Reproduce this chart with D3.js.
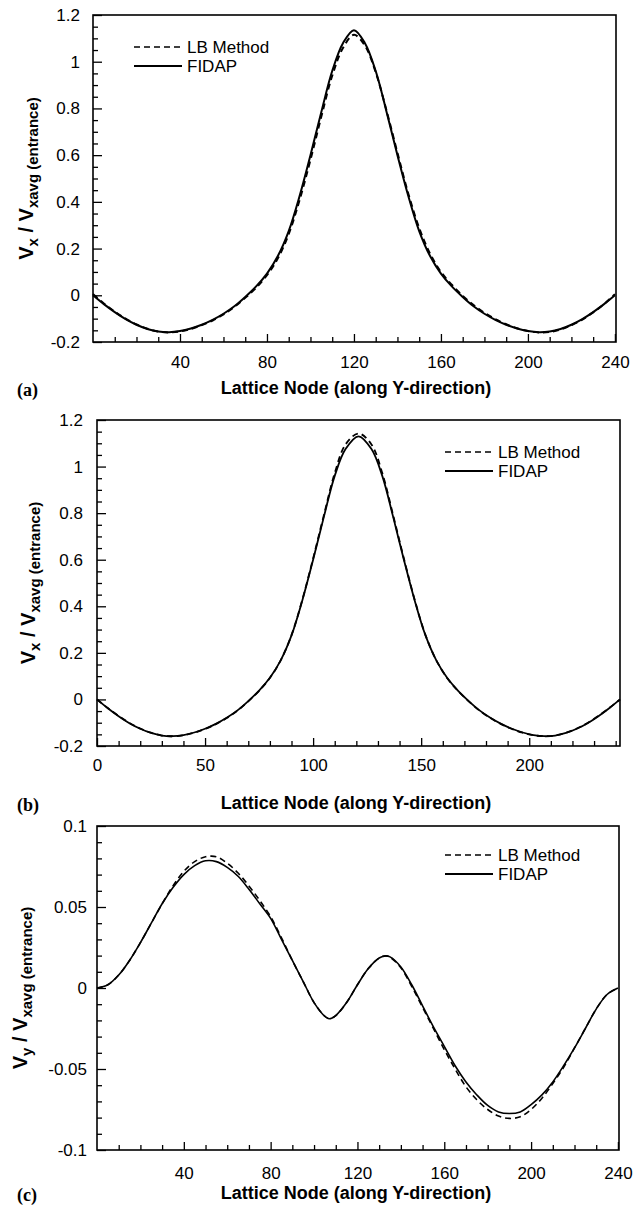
<!DOCTYPE html>
<html>
<head>
<meta charset="utf-8">
<script src="https://cdn.jsdelivr.net/npm/d3@7"></script>
<style>
  body { margin: 0; background: #fff; }
  svg { display: block; font-family: "Liberation Sans", Arial, sans-serif; }
</style>
</head>
<body>
<div id="chart"></div>
<script>
// Lattice nodes (along Y-direction) used by each panel
var nodesA = [0,5,10,15,20,25,30,35,40,45,50,55,60,65,70,75,80,85,90,95,100,105,110,115,120,
  125,130,135,140,145,150,155,160,165,170,175,180,185,190,195,200,205,210,215,220,225,230,235,240];
var nodesB = [0,5,10,15,20,25,30,35,40,45,50,55,60,65,70,75,80,85,90,95,100,105,110,115,121,
  127,132,137,142,147,152,157,162,167,172,177,182,187,192,197,202,207,212,217,222,227,232,237,242];
var nodesC = [0,5,10,15,20,25,30,35,40,45,50,55,60,65,70,75,80,85,90,95,100,105,107,110,115,120,
  125,130,133,135,140,145,150,155,160,165,170,175,180,185,190,195,200,205,210,215,220,225,230,235,240];

// (a) Vx / Vxavg
var fidapA = [0,-0.038,-0.072,-0.102,-0.126,-0.144,-0.155,-0.158,-0.153,-0.142,-0.126,-0.105,-0.079,-0.047,-0.007,0.038,0.093,0.168,0.275,0.425,0.6,0.785,0.96,1.08,1.135,
  1.08,0.96,0.785,0.6,0.425,0.275,0.168,0.093,0.038,-0.007,-0.047,-0.079,-0.105,-0.126,-0.142,-0.153,-0.158,-0.155,-0.144,-0.126,-0.102,-0.072,-0.038,0];
var lbA = [0.005,-0.035,-0.07,-0.1,-0.125,-0.143,-0.155,-0.159,-0.155,-0.144,-0.128,-0.108,-0.082,-0.05,-0.011,0.032,0.086,0.158,0.262,0.408,0.58,0.765,0.94,1.06,1.115,
  1.07,0.955,0.79,0.61,0.435,0.288,0.178,0.1,0.045,-0.002,-0.042,-0.075,-0.102,-0.124,-0.141,-0.153,-0.159,-0.157,-0.146,-0.128,-0.104,-0.073,-0.038,0.005];

// (b) Vx / Vxavg, other x axis
var fidapB = [0,-0.038,-0.072,-0.102,-0.126,-0.144,-0.155,-0.158,-0.153,-0.142,-0.126,-0.105,-0.079,-0.047,-0.007,0.038,0.093,0.168,0.275,0.425,0.6,0.785,0.96,1.075,1.13,
  1.075,0.96,0.785,0.6,0.425,0.275,0.168,0.093,0.038,-0.007,-0.047,-0.079,-0.105,-0.126,-0.142,-0.153,-0.158,-0.155,-0.144,-0.126,-0.102,-0.072,-0.038,0];
var lbB = [0,-0.037,-0.071,-0.101,-0.125,-0.143,-0.155,-0.158,-0.154,-0.143,-0.127,-0.106,-0.08,-0.048,-0.008,0.037,0.092,0.168,0.276,0.428,0.605,0.792,0.972,1.095,1.142,
  1.095,0.972,0.792,0.605,0.428,0.276,0.168,0.092,0.037,-0.008,-0.048,-0.08,-0.106,-0.127,-0.143,-0.154,-0.158,-0.155,-0.143,-0.125,-0.101,-0.071,-0.037,0];

// (c) Vy / Vxavg
var fidapC = [0,0.002,0.008,0.017,0.028,0.04,0.052,0.062,0.07,0.0755,0.0785,0.078,0.0745,0.069,0.061,0.052,0.043,0.03,0.017,0.004,-0.009,-0.0175,-0.019,-0.017,-0.009,0.002,
  0.012,0.0185,0.0198,0.0192,0.013,0.002,-0.011,-0.024,-0.036,-0.048,-0.058,-0.066,-0.0725,-0.0765,-0.0775,-0.0765,-0.072,-0.066,-0.058,-0.048,-0.037,-0.025,-0.013,-0.004,0];
var lbC = [0,0.002,0.008,0.017,0.028,0.04,0.052,0.063,0.072,0.078,0.081,0.081,0.077,0.071,0.063,0.054,0.044,0.031,0.017,0.004,-0.009,-0.0175,-0.019,-0.017,-0.009,0.002,
  0.012,0.0185,0.0198,0.019,0.0125,0.001,-0.012,-0.025,-0.038,-0.05,-0.061,-0.069,-0.075,-0.079,-0.0805,-0.0795,-0.075,-0.068,-0.059,-0.049,-0.037,-0.025,-0.013,-0.004,0];

// tick labels
var xTicksA = [40, 80, 120, 160, 200, 240];
var xTicksB = [0, 50, 100, 150, 200];
var yTicksV = [-0.2, 0, 0.2, 0.4, 0.6, 0.8, 1, 1.2];
var yTicksC = [-0.1, -0.05, 0, 0.05, 0.1];

var legendNames = ["LB Method", "FIDAP"];

var svgWidth = 633;
var svgHeight = 1211;

var svg = d3.select("#chart")
  .append("svg")
  .attr("width", svgWidth)
  .attr("height", svgHeight);

var fontSans = "'Liberation Sans', Arial, sans-serif";

// one function draws one panel of the figure
function drawPanel(p) {

  var xScale = d3.scaleLinear().domain([0, p.xMax]).range([p.left, p.right]);
  var yScale = d3.scaleLinear().domain(p.yDomain).range([p.bottom, p.top]);
  var g = svg.append("g");

  var fmt = d => String(+d.toFixed(2));

  // minor ticks first (no labels)
  var xMinor = d3.range(10, p.xMax, 10).filter(v => p.xTicks.indexOf(v) < 0);
  var yMinor = d3.range(p.yDomain[0], p.yDomain[1] + 1e-9, p.yMinorStep)
    .map(v => +v.toFixed(3))
    .filter(v => !p.yTicks.some(t => Math.abs(t - v) < 1e-6));

  g.append("g")
    .attr("transform", `translate(0,${p.bottom})`)
    .call(d3.axisBottom(xScale).tickValues(xMinor).tickSize(-5).tickFormat(""))
    .call(s => s.select(".domain").remove());
  g.append("g")
    .attr("transform", `translate(${p.left},0)`)
    .call(d3.axisLeft(yScale).tickValues(yMinor).tickSize(-5).tickFormat(""))
    .call(s => s.select(".domain").remove());

  // major ticks with labels
  var xAxisG = g.append("g")
    .attr("transform", `translate(0,${p.bottom})`)
    .call(d3.axisBottom(xScale).tickValues(p.xTicks).tickSize(-8).tickPadding(p.xPad).tickFormat(fmt))
    .call(s => s.select(".domain").remove());
  var yAxisG = g.append("g")
    .attr("transform", `translate(${p.left},0)`)
    .call(d3.axisLeft(yScale).tickValues(p.yTicks).tickSize(-9).tickPadding(p.yPad).tickFormat(fmt))
    .call(s => s.select(".domain").remove());

  g.selectAll(".tick line").attr("stroke", "#000").attr("stroke-width", 1.3);
  [xAxisG, yAxisG].forEach(a => {
    a.attr("font-family", fontSans).attr("font-size", 17);
    a.selectAll("text").attr("fill", "#000");
  });

  // frame round the plot
  g.append("rect")
    .attr("x", p.left)
    .attr("y", p.top)
    .attr("width", p.right - p.left)
    .attr("height", p.bottom - p.top)
    .attr("fill", "none")
    .attr("stroke", "#000")
    .attr("stroke-width", 1.6);

  // the two curves
  var line = function (nodes) {
    return d3.line()
      .x((d, i) => xScale(nodes[i]))
      .y(d => yScale(d))
      .curve(d3.curveCatmullRom.alpha(0.5));
  };

  g.append("path")
    .attr("d", line(p.nodes)(p.lb))
    .attr("fill", "none")
    .attr("stroke", "#000")
    .attr("stroke-width", p.lw)
    .attr("stroke-dasharray", "6,4");

  g.append("path")
    .attr("d", line(p.nodes)(p.fidap))
    .attr("fill", "none")
    .attr("stroke", "#000")
    .attr("stroke-width", p.lw);

  // legend
  legendNames.forEach(function (name, i) {
    var ly = p.legendY + i * 19;
    g.append("line")
      .attr("x1", p.legendX)
      .attr("x2", p.legendX + 48)
      .attr("y1", ly)
      .attr("y2", ly)
      .attr("stroke", "#000")
      .attr("stroke-width", i === 0 ? 1.6 : 1.8)
      .attr("stroke-dasharray", i === 0 ? "6,4" : null);
    g.append("text")
      .attr("x", p.legendX + 53)
      .attr("y", ly + 6)
      .attr("font-family", fontSans)
      .attr("font-size", 17)
      .text(name);
  });

  // x axis title and the panel letter
  g.append("text")
    .attr("x", 356)
    .attr("y", p.xTitleY)
    .attr("text-anchor", "middle")
    .attr("font-family", fontSans)
    .attr("font-weight", "bold")
    .attr("font-size", 18)
    .text("Lattice Node (along Y-direction)");

  g.append("text")
    .attr("x", 17)
    .attr("y", p.xTitleY + 2)
    .attr("font-family", "'Liberation Serif', 'Times New Roman', serif")
    .attr("font-weight", "bold")
    .attr("font-size", 18)
    .text(p.letter);

  // y axis title with subscripts
  var yt = g.append("text")
    .attr("transform", `translate(${p.yTitleX},${(p.top + p.bottom) / 2}) rotate(-90)`)
    .attr("text-anchor", "middle")
    .attr("font-family", fontSans)
    .attr("font-weight", "bold")
    .attr("font-size", 20);
  yt.append("tspan").text("V");
  yt.append("tspan").attr("font-size", 15).attr("dy", 5).text(p.sub);
  yt.append("tspan").attr("dy", -5).text(" / V");
  yt.append("tspan").attr("font-size", 15).attr("dy", 5).text("xavg (entrance)");
}

drawPanel({
  left: 93, right: 616, top: 15, bottom: 342,
  xMax: 240.5, yDomain: [-0.2, 1.2], yMinorStep: 0.05,
  xTicks: xTicksA, yTicks: yTicksV, xPad: 14, yPad: 13,
  nodes: nodesA, fidap: fidapA, lb: lbA, lw: 2,
  legendX: 134, legendY: 47, xTitleY: 394, yTitleX: 33,
  letter: "(a)", sub: "x"
});

drawPanel({
  left: 97, right: 620, top: 420, bottom: 746,
  xMax: 242, yDomain: [-0.2, 1.2], yMinorStep: 0.05,
  xTicks: xTicksB, yTicks: yTicksV, xPad: 13, yPad: 14,
  nodes: nodesB, fidap: fidapB, lb: lbB, lw: 1.8,
  legendX: 445, legendY: 452, xTitleY: 809, yTitleX: 35,
  letter: "(b)", sub: "x"
});

drawPanel({
  left: 97, right: 619, top: 826, bottom: 1150,
  xMax: 240.5, yDomain: [-0.1, 0.1], yMinorStep: 0.01,
  xTicks: xTicksA, yTicks: yTicksC, xPad: 17, yPad: 10,
  nodes: nodesC, fidap: fidapC, lb: lbC, lw: 1.6,
  legendX: 445, legendY: 855, xTitleY: 1199, yTitleX: 27,
  letter: "(c)", sub: "y"
});
</script>
</body>
</html>
